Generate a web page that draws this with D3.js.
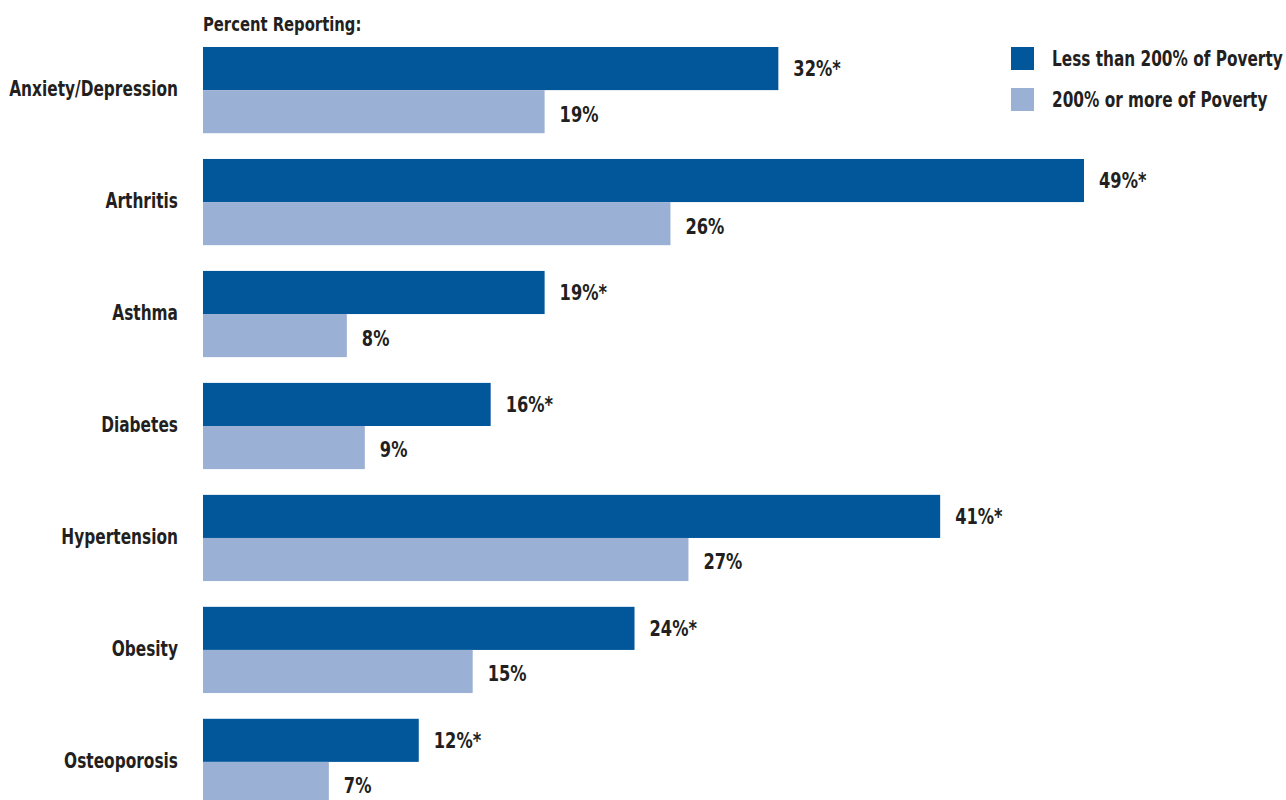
<!DOCTYPE html>
<html>
<head>
<meta charset="utf-8">
<script src="https://cdn.jsdelivr.net/npm/d3@7"></script>
<style>
  body { margin: 0; background: #fff; }
  text { font-family: "DejaVu Sans", sans-serif; font-weight: bold; fill: #231f20; }
</style>
</head>
<body>
<svg id="chart"></svg>
<script>
// chart data
let categories = ["Anxiety/Depression", "Arthritis", "Asthma", "Diabetes", "Hypertension", "Obesity", "Osteoporosis"];
let lowIncome = [32, 49, 19, 16, 41, 24, 12];   // less than 200% of poverty
let highIncome = [19, 26, 8, 9, 27, 15, 7];     // 200% or more of poverty
let seriesNames = ["Less than 200% of Poverty", "200% or more of Poverty"];
let seriesColors = ["#02579a", "#9bb0d5"];

let width = 1286;
let height = 800;
let squeeze = 0.74; // no condensed font installed, so narrow the glyphs by hand

let svg = d3.select("#chart")
    .attr("width", width)
    .attr("height", height);

// place a horizontally squeezed text at (x, y)
function place(sel, xf, yf, k) {
    sel.attr("transform", (d, i) => "translate(" + xf(d, i) + "," + yf(d, i) + ") scale(" + (k || squeeze) + ",1)");
}

// x scale: percent to pixels
let x = d3.scaleLinear()
    .domain([0, 49])
    .range([203, 1084]);

// y scale: one band per category
let y = d3.scaleBand()
    .domain(categories)
    .range([47, 805])
    .paddingInner(0.23)
    .paddingOuter(0);

// inner band for the two series
let ySub = d3.scaleBand()
    .domain([0, 1])
    .range([0, y.bandwidth()]);

let rows = categories.map((c, i) => ({
    name: c,
    values: [
        { s: 0, v: lowIncome[i], label: lowIncome[i] + "%*" },
        { s: 1, v: highIncome[i], label: highIncome[i] + "%" }
    ]
}));

// header
svg.append("text")
    .attr("font-size", 20)
    .text("Percent Reporting:")
    .call(place, () => 203, () => 31);

let group = svg.selectAll("g.row")
    .data(rows)
    .enter().append("g")
        .attr("class", "row")
        .attr("transform", d => "translate(0," + y(d.name) + ")");

// category labels
group.append("text")
    .attr("dy", "0.36em")
    .attr("text-anchor", "end")
    .attr("font-size", 22)
    .text(d => d.name)
    .call(place, () => 178, () => y.bandwidth() / 2 - 2, 0.70);

// bars
group.selectAll("rect")
    .data(d => d.values)
    .enter().append("rect")
        .attr("x", x(0))
        .attr("y", d => ySub(d.s))
        .attr("width", d => x(d.v) - x(0))
        .attr("height", ySub.bandwidth())
        .attr("fill", d => seriesColors[d.s]);

// value labels
group.selectAll("text.value")
    .data(d => d.values)
    .enter().append("text")
        .attr("class", "value")
        .attr("dy", "0.36em")
        .attr("font-size", 22)
        .text(d => d.label)
        .call(place, d => x(d.v) + 15, d => ySub(d.s) + ySub.bandwidth() / 2 + (d.s === 1 ? 2 : 0));

// legend
let legend = svg.selectAll("g.legend")
    .data(seriesNames)
    .enter().append("g")
        .attr("class", "legend")
        .attr("transform", (d, i) => "translate(1011," + (47 + i * 41) + ")");

legend.append("rect")
    .attr("width", 23)
    .attr("height", 23)
    .attr("fill", (d, i) => seriesColors[i]);

legend.append("text")
    .attr("dy", "0.36em")
    .attr("font-size", 21)
    .text(d => d)
    .call(place, () => 41, () => 11.5, 0.73);
</script>
</body>
</html>
